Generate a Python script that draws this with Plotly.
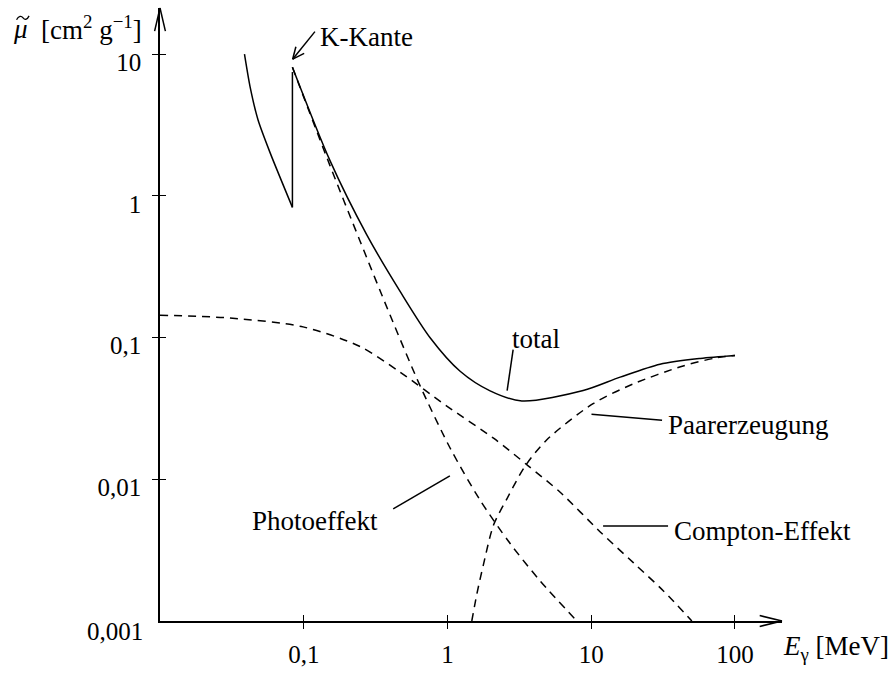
import math
import plotly.graph_objects as go

# ---------------- data ----------------
# total attenuation, below the K edge
total_low_E = [0.0387, 0.0423, 0.0481, 0.0583, 0.0834]
total_low_mu = [10.0, 5.91, 3.43, 2.02, 0.83]
# K edge jump
kedge_E = [0.0834, 0.0834]
kedge_mu = [0.83, 7.48]
# total attenuation, above the K edge
total_E = [0.0834, 0.152, 0.274, 0.468, 0.757, 1.224, 1.979, 3.29, 8.79, 15.9, 30.1, 57.3, 100]
total_mu = [8.09, 1.78, 0.533, 0.2118, 0.0998, 0.0579, 0.0421, 0.0357, 0.0423, 0.0526, 0.0649, 0.0713, 0.0748]
# photo effect
photo_E = [0.0834, 0.152, 0.2466, 0.3985, 0.6449, 1.0425, 1.686, 2.728, 4.41, 7.94]
photo_mu = [8.09, 1.642, 0.479, 0.1443, 0.0456, 0.01663, 0.00712, 0.00352, 0.00192, 0.001]
# Compton effect
compton_E = [0.01, 0.0307, 0.0989, 0.2466, 0.468, 1.0, 2.09, 3.66, 6.08, 11.5, 19.7, 31.8, 50.1]
compton_mu = [0.144, 0.1374, 0.119, 0.0865, 0.0570, 0.0326, 0.0195, 0.0124, 0.0081, 0.00427, 0.00257, 0.00163, 0.001]
# pair production
pair_E = [1.476, 1.60, 1.78, 2.09, 2.59, 3.47, 4.91, 10.3, 19.6, 43.6, 74.8, 100]
pair_mu = [0.001, 0.00155, 0.00251, 0.00475, 0.00728, 0.0124, 0.0190, 0.0342, 0.0471, 0.0631, 0.0721, 0.0748]

x_tick_vals = [0.1, 1, 10, 100]
x_tick_text = ["0,1", "1", "10", "100"]
y_tick_vals = [0.01, 0.1, 1, 10]
y_tick_text = ["0,01", "0,1", "1", "10"]
y_corner_label = "0,001"

# ---------------- geometry ----------------
W, H = 894, 676
PL, PR, PT, PB = 160, 782.3, 8, 630.7
X_RANGE = [-2, 2.327]
Y_RANGE = [-3, 1.326]

FONT = "Liberation Serif, Times New Roman, serif"
TXT = 27
TCK = 25
LW = 1.5


def px(x):
    return (x - PL) / (PR - PL)


def py(y):
    return (PB - y) / (PB - PT)


fig = go.Figure()

solid = dict(color="black", width=LW)
dashed = dict(color="black", width=LW, dash="8px,6px")

fig.add_trace(go.Scatter(x=total_low_E, y=total_low_mu, mode="lines", line=dict(**solid, shape="spline", smoothing=0.7)))
fig.add_trace(go.Scatter(x=kedge_E, y=kedge_mu, mode="lines", line=solid))
fig.add_trace(go.Scatter(x=total_E, y=total_mu, mode="lines", line=dict(**solid, shape="spline", smoothing=0.8)))
fig.add_trace(go.Scatter(x=photo_E, y=photo_mu, mode="lines", line=dict(**dashed, shape="spline", smoothing=0.8)))
fig.add_trace(go.Scatter(x=pair_E, y=pair_mu, mode="lines", line=dict(**dashed, shape="spline", smoothing=0.8)))
fig.add_trace(go.Scatter(x=compton_E, y=compton_mu, mode="lines", line=dict(**dashed, shape="spline", smoothing=0.8),
                         xaxis="x2", yaxis="y2"))

shapes = []


def seg(x0, y0, x1, y1, w=LW):
    shapes.append(dict(type="line", xref="paper", yref="paper", x0=px(x0), y0=py(y0), x1=px(x1), y1=py(y1),
                       line=dict(color="black", width=w)))


def head(tx, ty, dx, dy, length=12, half=0.45):
    n = math.hypot(dx, dy)
    ux, uy = dx / n, dy / n
    for s in (1, -1):
        c, sn = math.cos(s * half), math.sin(s * half)
        rx = ux * c - uy * sn
        ry = ux * sn + uy * c
        seg(tx, ty, tx - rx * length, ty - ry * length)


# axis arrow heads
seg(760, 625.2, PR, PB)
seg(760, 636.2, PR, PB)
seg(154.6, 31.5, PL, PT)
seg(165.4, 31.5, PL, PT)

# K-Kante arrow
seg(315, 32, 292.7, 60)
head(292.7, 60, 292.7 - 315, 60 - 32, length=13, half=0.42)

# leader lines
seg(513.3, 355, 507.3, 396.7)
seg(591.7, 420.7, 662.3, 426.7)
seg(393.3, 516.7, 450, 483.3)
seg(603.3, 534.3, 668.3, 534.3)

# tilde accent over mu (drawn as a small wave)
tp = [(16.5, 20.0), (18.5, 15.5), (21.5, 16.0), (23.0, 18.0), (24.5, 20.0), (27.0, 20.5), (29.0, 16.0)]
tpath = "M {},{} C {},{} {},{} {},{} C {},{} {},{} {},{}".format(
    *[v for p in tp for v in (px(p[0]), py(p[1]))])
shapes.append(dict(type="path", xref="paper", yref="paper", path=tpath, line=dict(color="black", width=1.3)))

annotations = []


def label(text, x, y, anchor="left", size=TXT):
    annotations.append(dict(text=text, xref="paper", yref="paper", x=px(x), y=py(y), xanchor=anchor,
                            yanchor="middle", showarrow=False, font=dict(family=FONT, size=size, color="black")))


label("K-Kante", 318, 37)
label("total", 510, 344)
label("Paarerzeugung", 666, 432)
label("Photoeffekt", 250, 529)
label("Compton-Effekt", 672, 539.5)
# y-axis title: mu (with drawn tilde), then the unit
label("<i>μ</i>", 11, 29, size=TXT)
label("[cm<sup>2</sup> g<sup>−1</sup>]", 39, 28, size=27)
# x-axis title
label("<i>E</i><sub>γ</sub> [MeV]", 781, 658)

annotations.append(dict(text=y_corner_label, xref="paper", yref="y", x=0, y=math.log10(0.001), xanchor="right",
                        yanchor="middle", xshift=-15, yshift=-10, showarrow=False,
                        font=dict(family=FONT, size=TCK, color="black")))

axis_common = dict(type="log", showgrid=False, zeroline=False, ticklen=6, tickwidth=1.2, tickcolor="black",
                   tickfont=dict(family=FONT, size=TCK, color="black"))

fig.update_layout(
    width=W, height=H,
    margin=dict(l=PL, r=W - PR, t=PT, b=H - PB, pad=0),
    paper_bgcolor="white", plot_bgcolor="white",
    showlegend=False,
    xaxis=dict(**axis_common, range=X_RANGE, tickvals=x_tick_vals, ticktext=x_tick_text, ticks="outside",
               showline=True, linecolor="black", linewidth=LW, ticklabelstandoff=4),
    yaxis=dict(**axis_common, range=Y_RANGE, tickvals=y_tick_vals, ticktext=y_tick_text, ticks="outside",
               showline=True, linecolor="black", linewidth=LW, ticklabelstandoff=6, ticklabelshift=8),
    xaxis2=dict(**axis_common, range=X_RANGE, tickvals=x_tick_vals, ticks="inside", showticklabels=False,
                overlaying="x", anchor="y2", showline=False),
    yaxis2=dict(**axis_common, range=Y_RANGE, tickvals=y_tick_vals, ticks="inside", showticklabels=False,
                overlaying="y", anchor="x2", side="left", showline=False),
    shapes=shapes,
    annotations=annotations,
)

fig.write_html("out.html")
